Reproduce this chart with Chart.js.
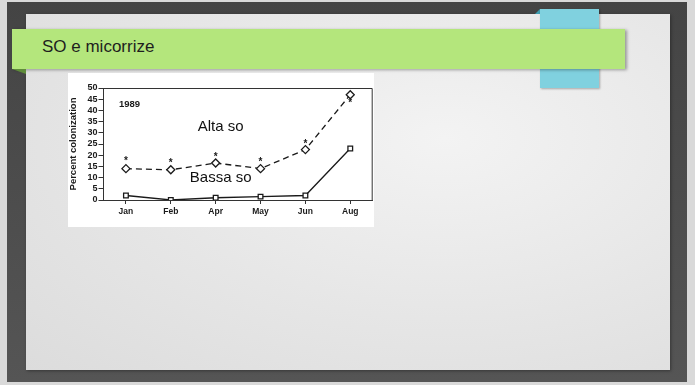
<!DOCTYPE html>
<html>
<head>
<meta charset="utf-8">
<script src="https://cdn.jsdelivr.net/npm/chart.js@4.4.0/dist/chart.umd.min.js"></script>
<style>
  html, body { margin: 0; padding: 0; }
  body { width: 695px; height: 385px; background: #d9d9d9; position: relative; overflow: hidden; font-family: "Liberation Sans", Arial, sans-serif; }
  #frame { position: absolute; left: 7px; top: 2px; width: 680px; height: 380px;
    background: linear-gradient(180deg, #444 0%, #4e4e4e 60%, #555 100%); }
  #panel { position: absolute; left: 26px; top: 14px; width: 644px; height: 356px;
    background: radial-gradient(ellipse at 65% 35%, #f3f3f3 0%, #e6e6e6 55%, #dcdcdc 100%);
    box-shadow: 1px 1px 3px rgba(0,0,0,0.35); }
  #tab { position: absolute; left: 540px; top: 9px; width: 59px; height: 79px; background: #80d1df;
    box-shadow: 1px 1px 2px rgba(0,0,0,0.3); }
  #tabfold { position: absolute; left: 535px; top: 9px; width: 0; height: 0;
    border-top: 5px solid transparent; border-right: 5px solid #3e9db0; }
  #banner { position: absolute; left: 12px; top: 29px; width: 613px; height: 40px; background: #b4e67c;
    box-shadow: 2px 1px 3px rgba(0,0,0,0.35); }
  #fold { position: absolute; left: 12px; top: 69px; width: 0; height: 0;
    border-top: 5px solid #5f8d3a; border-left: 14px solid transparent; }
  #title { position: absolute; left: 42px; top: 37px; font-size: 17px; color: #1e1e1e; }
  #chartbox { position: absolute; left: 68px; top: 73px; width: 306px; height: 154px; background: #fff; }
  #chartbox canvas { position: absolute; left: 0; top: 0; filter: blur(0.3px); }
</style>
</head>
<body>
<div id="frame"></div>
<div id="panel"></div>
<div id="tabfold"></div>
<div id="tab"></div>
<div id="banner"></div>
<div id="fold"></div>
<div id="title">SO e micorrize</div>
<div id="chartbox"><canvas id="c" width="310" height="154"></canvas></div>
<script>
// Sampling months (1989)
const months = ["Jan", "Feb", "Apr", "May", "Jun", "Aug"];
// Percent colonization, high organic matter plots
const altaSo = [14, 13.5, 16.5, 14, 22.5, 47];
// Percent colonization, low organic matter plots
const bassaSo = [2, 0, 1, 1.5, 2, 23];
// Where the significance asterisks sit (percent units)
const starPos = [18.3, 17.2, 20.1, 17.7, 25.8, 44];
// Y axis ticks
const yTicks = [0, 5, 10, 15, 20, 25, 30, 35, 40, 45, 50];

const ink = "#1a1a1a";
const fam = "'Liberation Sans', Arial, sans-serif";

const extras = {
  id: "extras",
  afterDatasetsDraw(chart) {
    const { ctx, chartArea: a, scales: { x, y } } = chart;
    ctx.save();
    // frame around plot
    ctx.strokeStyle = "#333";
    ctx.lineWidth = 1;
    ctx.beginPath();
    ctx.moveTo(a.left, a.top + 0.5);
    ctx.lineTo(a.right - 0.5, a.top + 0.5);
    ctx.lineTo(a.right - 0.5, a.bottom);
    ctx.stroke();
    // asterisks
    ctx.fillStyle = ink;
    ctx.font = "bold 10px " + fam;
    ctx.textAlign = "center";
    ctx.textBaseline = "middle";
    starPos.forEach((v, i) => {
      ctx.fillText("*", x.getPixelForValue(i), y.getPixelForValue(v) + 2);
    });
    // year label
    ctx.font = "bold 9.5px " + fam;
    ctx.textAlign = "left";
    ctx.fillText("1989", x.getPixelForValue(0) - 7, y.getPixelForValue(42.6));
    // series labels
    ctx.font = "15px " + fam;
    ctx.fillStyle = "#111";
    ctx.textAlign = "center";
    const cx = x.getPixelForValue(2) + 5;
    ctx.fillText("Alta so", cx, y.getPixelForValue(32.8));
    ctx.fillText("Bassa so", cx, y.getPixelForValue(9.7));
    ctx.restore();
  }
};

new Chart(document.getElementById("c"), {
  type: "line",
  data: {
    labels: months,
    datasets: [
      {
        label: "Alta so",
        data: altaSo,
        borderColor: ink,
        borderWidth: 1.3,
        borderDash: [6, 4],
        pointStyle: "rectRot",
        pointRadius: 4,
        pointBorderWidth: 1.3,
        pointBackgroundColor: "#fff",
        pointBorderColor: ink,
        tension: 0
      },
      {
        label: "Bassa so",
        data: bassaSo,
        borderColor: ink,
        borderWidth: 1.3,
        pointStyle: "rect",
        pointRadius: 3.3,
        pointBorderWidth: 1.3,
        pointBackgroundColor: "#fff",
        pointBorderColor: ink,
        tension: 0
      }
    ]
  },
  options: {
    responsive: false,
    animation: false,
    events: [],
    layout: { padding: { left: 0, right: 1, top: 15, bottom: 0 } },
    plugins: { legend: { display: false }, tooltip: { enabled: false } },
    scales: {
      x: {
        offset: true,
        grid: { display: true, drawOnChartArea: false, drawTicks: true, tickLength: 4, color: "#333", offset: false },
        border: { display: true, color: "#333", width: 1 },
        ticks: { color: ink, font: { family: fam, size: 8.5, weight: "bold" }, padding: 3, maxRotation: 0, autoSkip: false },
        afterFit(s) { s.height = 27; }
      },
      y: {
        min: 0, max: 50,
        afterBuildTicks(s) { s.ticks = yTicks.map(v => ({ value: v })); },
        grid: { display: true, drawOnChartArea: false, drawTicks: true, tickLength: 5, color: "#333" },
        border: { display: true, color: "#333", width: 1 },
        ticks: { color: ink, font: { family: fam, size: 9, weight: "bold", lineHeight: 1 }, padding: 1, autoSkip: false },
        title: { display: true, text: "Percent colonization", color: ink, padding: 0,
          font: { family: fam, size: 9.5, weight: "bold" } },
        afterFit(s) { s.width = 35.5; }
      }
    }
  },
  plugins: [extras]
});
</script>
</body>
</html>
